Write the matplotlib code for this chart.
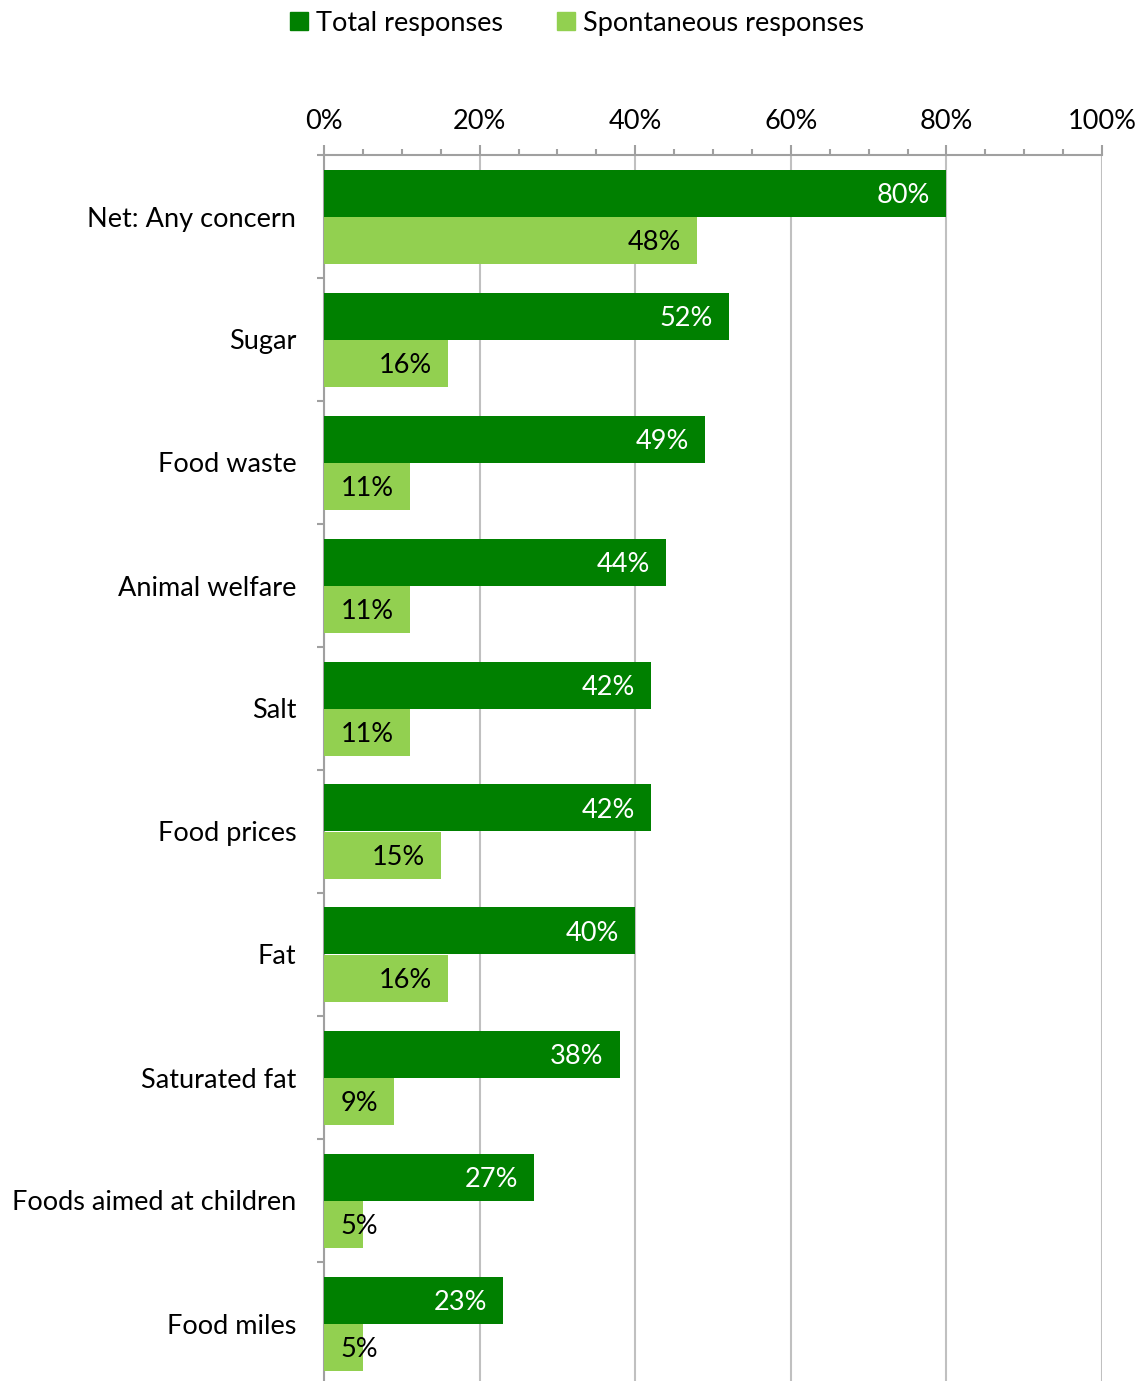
import matplotlib
matplotlib.use("Agg")
import matplotlib.pyplot as plt
from matplotlib.ticker import MultipleLocator, FixedLocator
from matplotlib.patches import Rectangle

categories = ["Net: Any concern", "Sugar", "Food waste", "Animal welfare", "Salt",
              "Food prices", "Fat", "Saturated fat", "Foods aimed at children", "Food miles"]
total = [80, 52, 49, 44, 42, 42, 40, 38, 27, 23]
spontaneous = [48, 16, 11, 11, 11, 15, 16, 9, 5, 5]
series_names = ["Total responses", "Spontaneous responses"]
x_ticks = [0, 20, 40, 60, 80, 100]

DARK = "#008000"
LIGHT = "#92D050"
AXC = "#A0A0A0"
GRIDC = "#C0C0C0"
FONT = "Lato"
FS = 19.5

W, H = 1143, 1381
fig = plt.figure(figsize=(W / 100, H / 100), dpi=100)
ax = fig.add_axes([324 / W, 1 - 1385 / H, 778 / W, (1385 - 155) / H])

n = len(categories)
ys = list(range(n))
bh = 47 / 123
ax.barh([y - bh / 2 for y in ys], total, height=bh, color=DARK, zorder=3)
ax.barh([y + bh / 2 for y in ys], spontaneous, height=bh, color=LIGHT, zorder=3)

ax.set_xlim(0, 100)
ax.set_ylim(n - 0.5, -0.5)

ax.xaxis.tick_top()
ax.xaxis.set_major_locator(FixedLocator(x_ticks))
ax.xaxis.set_minor_locator(MultipleLocator(5))
ax.set_xticklabels([f"{t}%" for t in x_ticks], fontfamily=FONT, fontsize=FS)
ax.tick_params(axis="x", which="major", length=7, width=1.5, color=AXC, pad=8, direction="out")
ax.tick_params(axis="x", which="minor", length=4, width=1.5, color=AXC, direction="out")

ax.yaxis.set_major_locator(FixedLocator([i - 0.5 for i in range(n + 1)]))
ax.yaxis.set_major_formatter(plt.NullFormatter())
ax.yaxis.set_minor_locator(FixedLocator(ys))
ax.set_yticklabels(categories, minor=True, fontfamily=FONT, fontsize=FS)
ax.tick_params(axis="y", which="major", length=5, width=1.5, color=AXC)
ax.tick_params(axis="y", which="minor", length=0, pad=20)

for s in ["right", "bottom"]:
    ax.spines[s].set_visible(False)
for s in ["left", "top"]:
    ax.spines[s].set_color(AXC)
    ax.spines[s].set_linewidth(1.5)

ax.grid(axis="x", which="major", color=GRIDC, linewidth=1.5, zorder=0)
ax.set_axisbelow(True)

pad_pt = 16 * 72 / 100
texts = []
for y, v in zip(ys, total):
    t = ax.annotate(f"{v}%", (v, y - bh / 2), xytext=(-pad_pt, 0), textcoords="offset points",
                    ha="right", va="center_baseline", color="white", fontfamily=FONT, fontsize=FS, zorder=4)
    texts.append((t, y - bh / 2))
for y, v in zip(ys, spontaneous):
    t = ax.annotate(f"{v}%", (v, y + bh / 2), xytext=(-pad_pt, 0), textcoords="offset points",
                    ha="right", va="center_baseline", color="black", fontfamily=FONT, fontsize=FS, zorder=4)
    texts.append((t, y + bh / 2))

fig.canvas.draw()
r = fig.canvas.get_renderer()
ax_left = ax.get_window_extent(r).x0
for t, yy in texts:
    bb = t.get_window_extent(r)
    if bb.x0 < ax_left + 16:
        t.xy = (0, yy)
        t.set_position((pad_pt, 0))
        t.set_ha("left")

# legend
handles = [Rectangle((0, 0), 1, 1, color=DARK), Rectangle((0, 0), 1, 1, color=LIGHT)]
fig.legend(handles, series_names, loc="center", bbox_to_anchor=(577 / W, 1 - 23 / H), ncol=2,
           frameon=False, prop={"family": FONT, "size": FS}, handlelength=0.65, handleheight=0.65,
           handletextpad=0.3, columnspacing=2.0)

fig.savefig("out.png", dpi=100)
